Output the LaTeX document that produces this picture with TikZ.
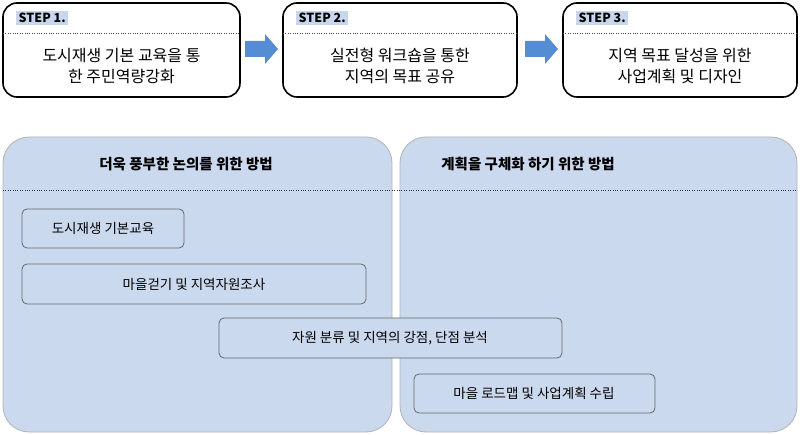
\documentclass[tikz,border=0pt]{standalone}
\usepackage{fontspec}
\setmainfont{Noto Sans CJK KR}
\definecolor{panelblue}{RGB}{203,217,238}
\definecolor{labblue}{RGB}{200,215,238}
\definecolor{arrblue}{RGB}{84,141,212}
\begin{document}
\begin{tikzpicture}[x=1pt,y=-1pt,
 stepbox/.style={draw=black,line width=1.6pt,rounded corners=14pt,fill=white},
 panel/.style={draw=black!30,line width=0.8pt,rounded corners=26pt,fill=panelblue},
 item/.style={draw=black!60,line width=0.8pt,rounded corners=5pt,fill=panelblue},
 lab/.style={fill=labblue,inner sep=2.5pt,font=\bfseries\fontsize{12.5}{14}\selectfont},
 txt/.style={font=\fontsize{16}{21}\selectfont,align=center},
 itxt/.style={font=\fontsize{13.5}{16}\selectfont},
 htxt/.style={font=\bfseries\fontsize{14.5}{17}\selectfont},
 arr/.style={fill=arrblue,draw=none}]
\useasboundingbox (0,0) rectangle (800,435);
% steps
\foreach \i/\xa/\xb/\t in {1/3/240/{도시재생 기본 교육을 통\\한 주민역량강화},2/283/517/{실전형 워크숍을 통한\\지역의 목표 공유},3/563/797/{지역 목표 달성을 위한\\사업계획 및 디자인}}{
 \draw[stepbox] (\xa,3) rectangle (\xb,97);
 \draw[dotted,black!70] (\xa,33) -- (\xb,33);
 \node[lab,anchor=west] (l\i) at (\xa+13,18) {STEP \i.};
 \node[txt] (t\i) at ({(\xa+\xb)/2},66) {\t};
}
\foreach \x in {245,525}{
 \fill[arr] (\x,41) -- (\x+20,41) -- (\x+20,34) -- (\x+33,49) -- (\x+20,64) -- (\x+20,57) -- (\x,57) -- cycle;
}
% panels
\draw[panel] (3,137) rectangle (392,432);
\draw[panel] (400,137) rectangle (797,432);
\draw[dotted,black!80] (3,190) -- (797,190);
\node[htxt] (h1) at (186,164) {더욱 풍부한 논의를 위한 방법};
\node[htxt] (h2) at (528,164) {계획을 구체화 하기 위한 방법};
\draw[item] (22,209) rectangle (184,248); \node[itxt] (i1) at (103,228.5) {도시재생 기본교육};
\draw[item] (22,264) rectangle (366,304); \node[itxt] (i2) at (194,284) {마을걷기 및 지역자원조사};
\draw[item] (219,318) rectangle (562,358); \node[itxt] (i3) at (390,338) {자원 분류 및 지역의 강점, 단점 분석};
\draw[item] (414,374) rectangle (655,413); \node[itxt] (i4) at (534,393.5) {마을 로드맵 및 사업계획 수립};
\end{tikzpicture}
\end{document}
